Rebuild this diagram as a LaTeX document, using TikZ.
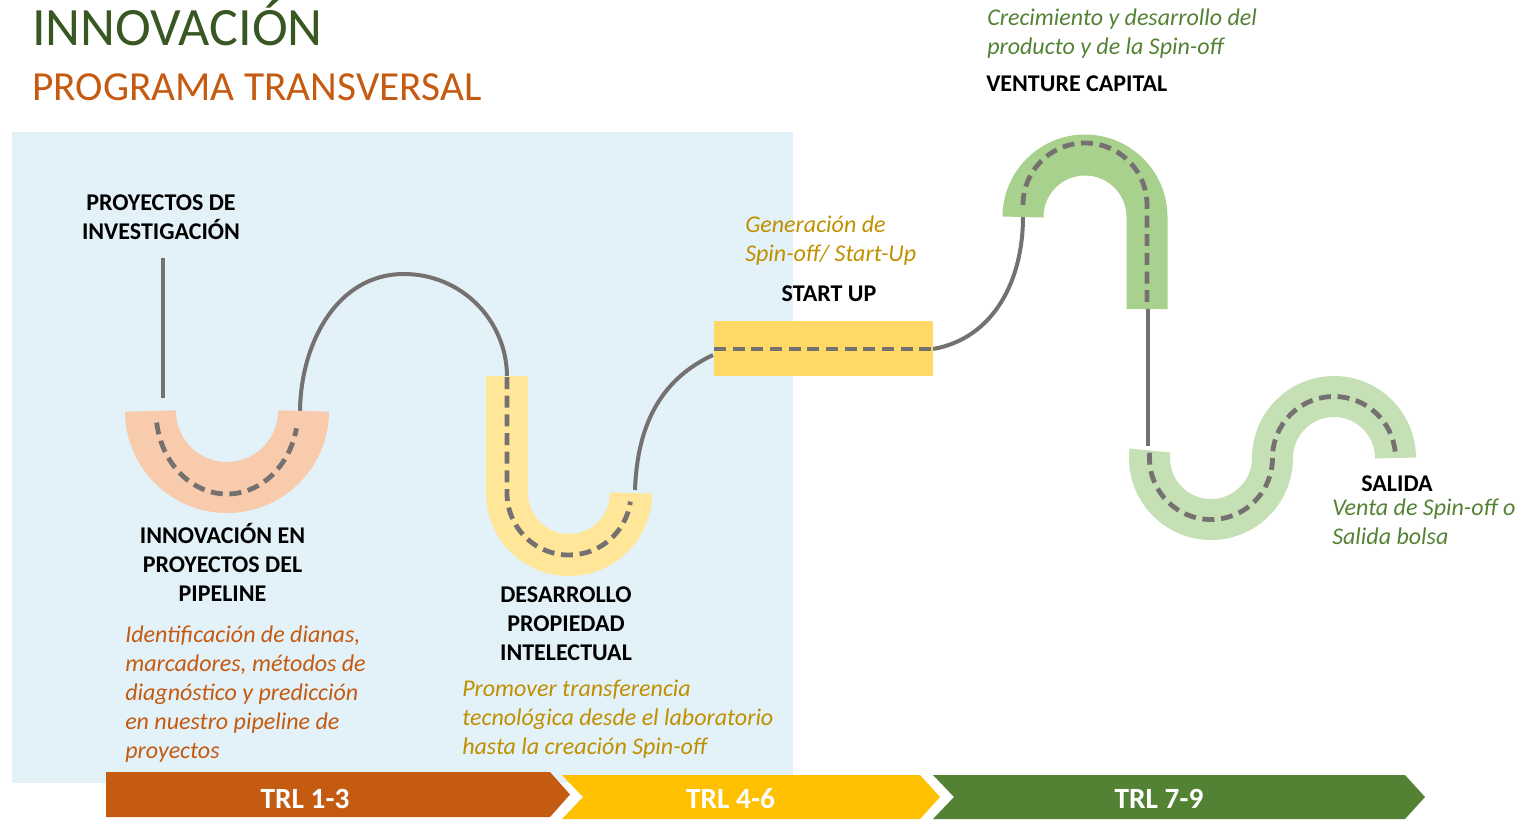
\documentclass[tikz,border=0pt]{standalone}
\usepackage{fontspec}
\setmainfont{Carlito}
\usepackage{xcolor}
\usetikzlibrary{positioning, calc}

\definecolor{fondo}{HTML}{E3F1F8}
\definecolor{gris}{HTML}{767171}
\definecolor{melocoton}{HTML}{F8CBAD}
\definecolor{amarilloU}{HTML}{FFE699}
\definecolor{amarilloSU}{HTML}{FFD966}
\definecolor{verdeA}{HTML}{A9D18E}
\definecolor{verdeS}{HTML}{C5E0B4}
\definecolor{naranja}{HTML}{C55A11}
\definecolor{oro}{HTML}{BF9000}
\definecolor{amarilloT}{HTML}{FFC000}
\definecolor{verdeT}{HTML}{548235}
\definecolor{verdeOsc}{HTML}{385723}

\begin{document}
\begin{tikzpicture}[x=0.75pt, y=0.75pt,
    banda/.style={line width=#1},
    guion/.style={draw=gris, line width=3.6pt, dash pattern=on 9pt off 5pt},
    cable/.style={draw=gris, line width=3pt},
    etapa/.style={font=\fontsize{18}{21.75}\selectfont\bfseries, inner sep=0, align=center, anchor=base},
    nota/.style={font=\fontsize{18}{21.75}\selectfont\itshape, inner sep=0, align=left, anchor=base west},
    trl/.style={font=\fontsize{22}{26}\selectfont\bfseries, text=white, inner sep=0, anchor=base}]
    \useasboundingbox (0,0) rectangle (1522,-819);
    % fondo
    \fill[fondo] (12,-132) rectangle (793,-783);
    % titulo
    \node[anchor=base west, inner sep=0, text=verdeOsc, font=\fontsize{40.5}{48}\selectfont] (tit) at (32,-45) {INNOVACIÓN};
    \node[anchor=base west, inner sep=0, text=naranja, font=\fontsize{31}{37}\selectfont] (subtit) at (32,-100) {PROGRAMA TRANSVERSAL};
    % puntos de enlace
    \coordinate (inv) at (163,-258);
    \coordinate (p1a) at (163,-398);
    \coordinate (p1b) at (300,-413);
    \coordinate (cima) at (404,-274);
    \coordinate (p2a) at (507,-377);
    \coordinate (p2b) at (635,-490);
    \coordinate (suA) at (713,-355);
    \coordinate (suB) at (933,-349);
    \coordinate (vcA) at (1023,-217);
    \coordinate (vcB) at (1148,-309);
    \coordinate (saA) at (1148,-446);
    % cables
    \draw[cable] (inv) -- (p1a);
    \draw[cable] (p1b) to[out=90,in=180] (cima) to[out=0,in=90] (p2a);
    \draw[cable] (p2b) to[out=88,in=205] (suA);
    \draw[cable] (suB) to[out=10,in=-90] (vcA);
    \draw[cable] (vcB) -- (saA);
    % pista 1
    \draw[banda=38.25pt, draw=melocoton] (150.5,-411) arc[start angle=180, end angle=360, radius=76.5];
    \draw[guion] (227,-411) ++(188:71 and 83) arc[start angle=188, end angle=348, x radius=71, y radius=83];
    % pista 2
    \draw[banda=31.5pt, draw=amarilloU] (507,-376) -- (507,-493) arc[start angle=180, end angle=360, radius=62];
    \draw[guion] (507,-377) -- (507,-493) arc[start angle=180, end angle=352, radius=62];
    % start up
    \fill[amarilloSU] (714,-321) rectangle (933,-376);
    \draw[guion] (714,-349) -- (933,-349);
    % venture capital
    \draw[banda=30.75pt, draw=verdeA] (1023,-217) arc[start angle=180, end angle=0, radius=62] -- (1147,-309);
    \draw[guion] (1023,-205) arc[start angle=180, end angle=0, radius=62] -- (1147,-309);
    % salida
    \draw[banda=30.75pt, draw=verdeS] (1211,-458) ++(173:61.5) arc[start angle=173, end angle=360, radius=61.5] arc[start angle=180, end angle=0, radius=61.5];
    \draw[guion] (1211,-458) ++(175:61.5) arc[start angle=175, end angle=360, radius=61.5] arc[start angle=180, end angle=5, radius=61.5];
    % textos (base = ultima linea)
    \node[etapa] (invest) at (161,-239) {PROYECTOS DE\\INVESTIGACIÓN};
    \node[etapa] (pipe) at (222.5,-601) {INNOVACIÓN EN\\PROYECTOS DEL\\PIPELINE};
    \node[nota, text=naranja] (pipenota) at (125,-758.7) {Identificación de dianas,\\marcadores, métodos de\\diagnóstico y predicción\\en nuestro pipeline de\\proyectos};
    \node[etapa] (propi) at (566,-660.7) {DESARROLLO\\PROPIEDAD\\INTELECTUAL};
    \node[nota, text=oro] (propinota) at (462,-754.7) {Promover transferencia\\tecnológica desde el laboratorio\\hasta la creación Spin-off};
    \node[nota, text=oro] (sunota) at (745,-261) {Generación de\\Spin-off/ Start-Up};
    \node[etapa] (su) at (829,-301.7) {START UP};
    \node[nota, text=verdeT] (vcnota) at (987,-54) {Crecimiento y desarrollo del\\producto y de la Spin-off};
    \node[etapa, anchor=base west] (vc) at (986,-91.7) {VENTURE CAPITAL};
    \node[etapa] (sal) at (1397,-491.7) {SALIDA};
    \node[nota, text=verdeT] (salnota) at (1332,-544) {Venta de Spin-off o\\Salida bolsa};
    % flechas TRL
    \fill[naranja] (106,-772) -- (550,-772) -- (570,-794.5) -- (550,-817) -- (106,-817) -- cycle;
    \fill[amarilloT] (562,-775) -- (920,-775) -- (940,-797) -- (920,-819) -- (562,-819) -- (583,-797) -- cycle;
    \fill[verdeT] (933,-775) -- (1405,-775) -- (1425,-797) -- (1405,-819) -- (933,-819) -- (954,-797) -- cycle;
    \node[trl] (trlA) at (305,-808) {TRL 1-3};
    \node[trl] (trlB) at (730.5,-808) {TRL 4-6};
    \node[trl] (trlC) at (1159,-808) {TRL 7-9};
\end{tikzpicture}
\end{document}
